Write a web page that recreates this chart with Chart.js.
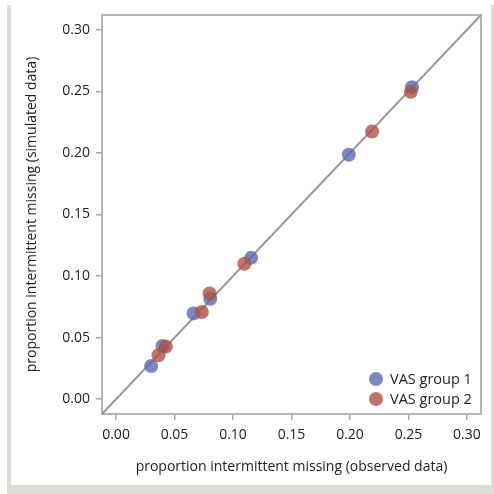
<!DOCTYPE html>
<html><head><meta charset="utf-8">
<script src="https://cdn.jsdelivr.net/npm/chart.js@4/dist/chart.umd.min.js"></script>
<style>
html,body{margin:0;padding:0;background:#fff;}
#wrap{position:relative;width:494px;height:494px;overflow:hidden;}
#frame{position:absolute;left:7px;top:5px;width:480px;height:480px;border-left:4px solid #dcddd6;border-bottom:9px solid #dcddd6;border-right:3px solid #dcddd6;}
canvas{position:absolute;left:0;top:0;}
</style></head>
<body><div id="wrap"><div id="frame"></div><canvas id="c" width="494" height="494"></canvas></div>
<script>
const seriesNames = ["VAS group 1", "VAS group 2"];
const group1Observed = [0.253, 0.199, 0.1155, 0.0806, 0.0663, 0.0397, 0.030];
const group1Simulated = [0.2534, 0.1985, 0.1148, 0.0816, 0.0697, 0.0432, 0.027];
const group2Observed = [0.252, 0.2189, 0.1097, 0.080, 0.0734, 0.0426, 0.0363];
const group2Simulated = [0.2496, 0.2174, 0.110, 0.0859, 0.0708, 0.0427, 0.0357];
const tickValues = [0, 0.05, 0.10, 0.15, 0.20, 0.25, 0.30];
const axisMin = -0.012, axisMax = 0.312;
const xTitle = "proportion intermittent missing (observed data)";
const yTitle = "proportion intermittent missing (simulated data)";

const blue = 'rgba(90,105,175,0.8)';
const red = 'rgba(175,80,70,0.8)';
const legendColors = ['#7b87bf', '#bf736b'];
const FONT = '"Open Sans", "Noto Sans", sans-serif';

const toPts = (xs, ys) => xs.map((x, i) => ({x, y: ys[i]}));

const boxPlugin = {
  id: 'box',
  beforeDatasetsDraw(chart) {
    const {ctx, chartArea: a} = chart;
    ctx.save();
    ctx.strokeStyle = '#b4b4b4';
    ctx.lineWidth = 2;
    ctx.strokeRect(a.left, a.top, a.right - a.left, a.bottom - a.top);
    ctx.restore();
  }
};
const legendPlugin = {
  id: 'inlegend',
  afterDatasetsDraw(chart) {
    const {ctx} = chart;
    ctx.save();
    ctx.font = '14.5px ' + FONT;
    ctx.textBaseline = 'middle';
    ctx.textAlign = 'left';
    seriesNames.forEach((n, i) => {
      const y = 379 + i * 20;
      ctx.fillStyle = legendColors[i];
      ctx.beginPath(); ctx.arc(376, y, 7, 0, Math.PI * 2); ctx.fill();
      ctx.fillStyle = '#222';
      ctx.fillText(n, 390, y + 1);
    });
    ctx.restore();
  }
};

const axisCommon = (title, isX) => ({
  type: 'linear', min: axisMin, max: axisMax,
  afterBuildTicks: s => { s.ticks = tickValues.map(v => ({value: v})); },
  afterFit: s => { if (isX) s.height = 80; else s.width = 102; },
  grid: {drawOnChartArea: false, tickLength: 6, tickColor: '#aaa', lineWidth: 1.5},
  border: {display: false},
  ticks: {callback: v => v.toFixed(2), color: '#222', font: {family: FONT, size: 14}, padding: isX ? 7 : 6, maxRotation: 0, autoSkip: false},
  title: {display: true, text: title, color: '#222', font: {family: FONT, size: 14},
          padding: isX ? {top: 0, bottom: 19} : {top: 24, bottom: 0}}
});

new Chart(document.getElementById('c'), {
  type: 'scatter',
  data: {datasets: [
    {label: seriesNames[0], data: toPts(group1Observed, group1Simulated), backgroundColor: blue, borderWidth: 0, pointRadius: 7, order: 2},
    {label: seriesNames[1], data: toPts(group2Observed, group2Simulated), backgroundColor: red, borderWidth: 0, pointRadius: 7, order: 1},
    {type: 'line', label: 'identity', data: [{x: axisMin, y: axisMin}, {x: axisMax, y: axisMax}], borderColor: '#999', borderWidth: 2, pointRadius: 0, order: 3}
  ]},
  options: {
    responsive: false, animation: false,
    layout: {padding: {left: 0, top: 15, right: 13, bottom: 0}},
    plugins: {legend: {display: false}, tooltip: {enabled: false}},
    scales: {x: axisCommon(xTitle, true), y: axisCommon(yTitle, false)}
  },
  plugins: [boxPlugin, legendPlugin]
});
</script></body></html>
